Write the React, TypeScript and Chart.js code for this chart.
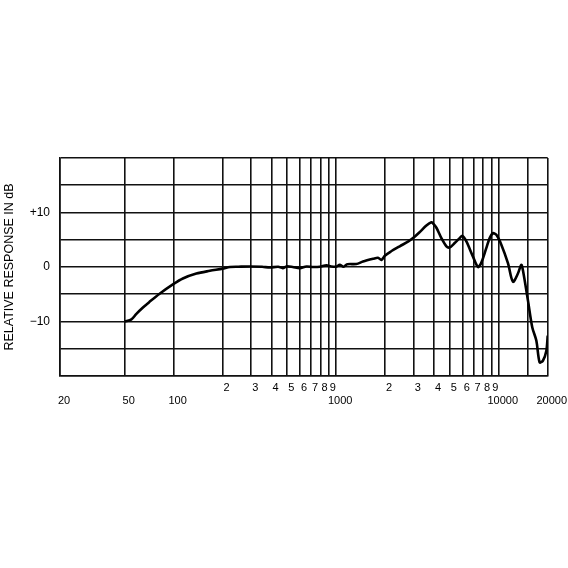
import React, { useEffect, useRef } from "react";
import { Chart, registerables } from "chart.js";

Chart.register(...registerables);

const freqs = [
  50, 55, 59, 65, 71, 82, 100, 114, 138, 167, 200, 222, 250, 294, 350, 391, 440, 469, 495, 540,
  597, 657, 720, 793, 872, 930, 1000, 1052, 1110, 1170, 1330, 1462, 1686, 1808, 1898, 2000, 2160,
  2460, 2780, 3050, 3264, 3588, 3852, 3940, 4135, 4436, 4764, 4990, 5356, 5746, 5972, 6320, 6940,
  7448, 7816, 8390, 8790, 9210, 9664, 10370, 11388, 12222, 13116, 13764, 14080, 15112, 16080,
  17024, 17836, 18680, 19608, 20000,
];
const responseDb = [
  -10, -9.6, -8.6, -7.4, -6.4, -4.9, -3.1, -2.1, -1.2, -0.7, -0.3, 0, 0.05, 0.1, 0.05, -0.1, 0.05,
  -0.2, 0.1, 0, -0.2, 0.1, 0, 0.05, 0.3, 0.1, 0.05, 0.4, 0.05, 0.5, 0.55, 1.0, 1.5, 1.7, 1.3, 2.1,
  2.8, 3.8, 4.7, 5.6, 6.4, 7.6, 8.2, 8.0, 7.2, 5.3, 3.8, 3.6, 4.4, 5.3, 5.7, 4.7, 1.9, 0.0, 0.8,
  3.5, 5.3, 6.2, 5.9, 4.1, 0.7, -2.7, -1.2, 0.4, -0.6, -6.1, -11.1, -13.5, -17.5, -17.2, -15.4,
  -12.6,
];

const xGridValues = [
  20, 50, 100, 200, 300, 400, 500, 600, 700, 800, 900, 1000, 2000, 3000, 4000, 5000, 6000, 7000,
  8000, 9000, 10000, 15000, 20000,
];
const xMajorLabels: Record<number, string> = {
  20: "20", 50: "50", 100: "100", 1000: "1000", 10000: "10000", 20000: "20000",
};
const xMinorLabels: Record<number, string> = {
  200: "2", 300: "3", 400: "4", 500: "5", 600: "6", 700: "7", 800: "8", 900: "9",
  2000: "2", 3000: "3", 4000: "4", 5000: "5", 6000: "6", 7000: "7", 8000: "8", 9000: "9",
};
const yLabels: Record<number, string> = { 10: "+10", 0: "0", [-10]: "\u221210" };
const yTitle = "RELATIVE RESPONSE IN dB";

export default function App() {
  const ref = useRef<HTMLCanvasElement | null>(null);
  useEffect(() => {
    if (!ref.current) return;
    const font = "'Liberation Sans', Arial, Helvetica, sans-serif";
    const chart = new Chart(ref.current, {
      type: "line",
      data: {
        datasets: [
          {
            data: freqs.map((f, i) => ({ x: f, y: responseDb[i] })),
            borderColor: "#000",
            borderWidth: 2.6,
            pointRadius: 0,
            tension: 0.3,
            fill: false,
          },
        ],
      },
      options: {
        responsive: false,
        animation: false,
        layout: { padding: { top: 158, right: 20, left: 0, bottom: 0 } },
        plugins: { legend: { display: false }, tooltip: { enabled: false } },
        scales: {
          x: {
            type: "logarithmic",
            min: 20,
            max: 20000,
            afterBuildTicks: (scale: any) => {
              scale.ticks = xGridValues.map((v) => ({ value: v }));
            },
            afterFit: (scale: any) => {
              scale.height = 192;
            },
            grid: { color: "#111", lineWidth: 1.6, drawTicks: false },
            border: { display: true, color: "#111", width: 1.6 },
            ticks: {
              autoSkip: false,
              maxRotation: 0,
              minRotation: 0,
              padding: 5,
              labelOffset: 4,
              color: "#000",
              font: { family: font, size: 11, lineHeight: 1.2 },
              callback: (value: any) => {
                const v = Number(value);
                if (xMajorLabels[v]) return ["", xMajorLabels[v]];
                if (xMinorLabels[v]) return [xMinorLabels[v], ""];
                return "";
              },
            },
          },
          y: {
            type: "linear",
            min: -20,
            max: 20,
            afterFit: (scale: any) => {
              scale.width = 60;
            },
            grid: { color: "#111", lineWidth: 1.6, drawTicks: false },
            border: { display: true, color: "#111", width: 1.6 },
            ticks: {
              stepSize: 5,
              padding: 10,
              color: "#000",
              font: { family: font, size: 12 },
              callback: (value: any) => yLabels[Number(value)] ?? "",
            },
            title: {
              display: true,
              text: yTitle,
              color: "#000",
              font: { family: font, size: 12.5 },
              padding: { top: 2, bottom: 0 },
            },
          },
        },
      },
    });
    return () => chart.destroy();
  }, []);
  return (
    <div style={{ position: "fixed", left: 0, top: 0, width: 568, height: 568, background: "#fff" }}>
      <canvas ref={ref} width={568} height={568} />
    </div>
  );
}
